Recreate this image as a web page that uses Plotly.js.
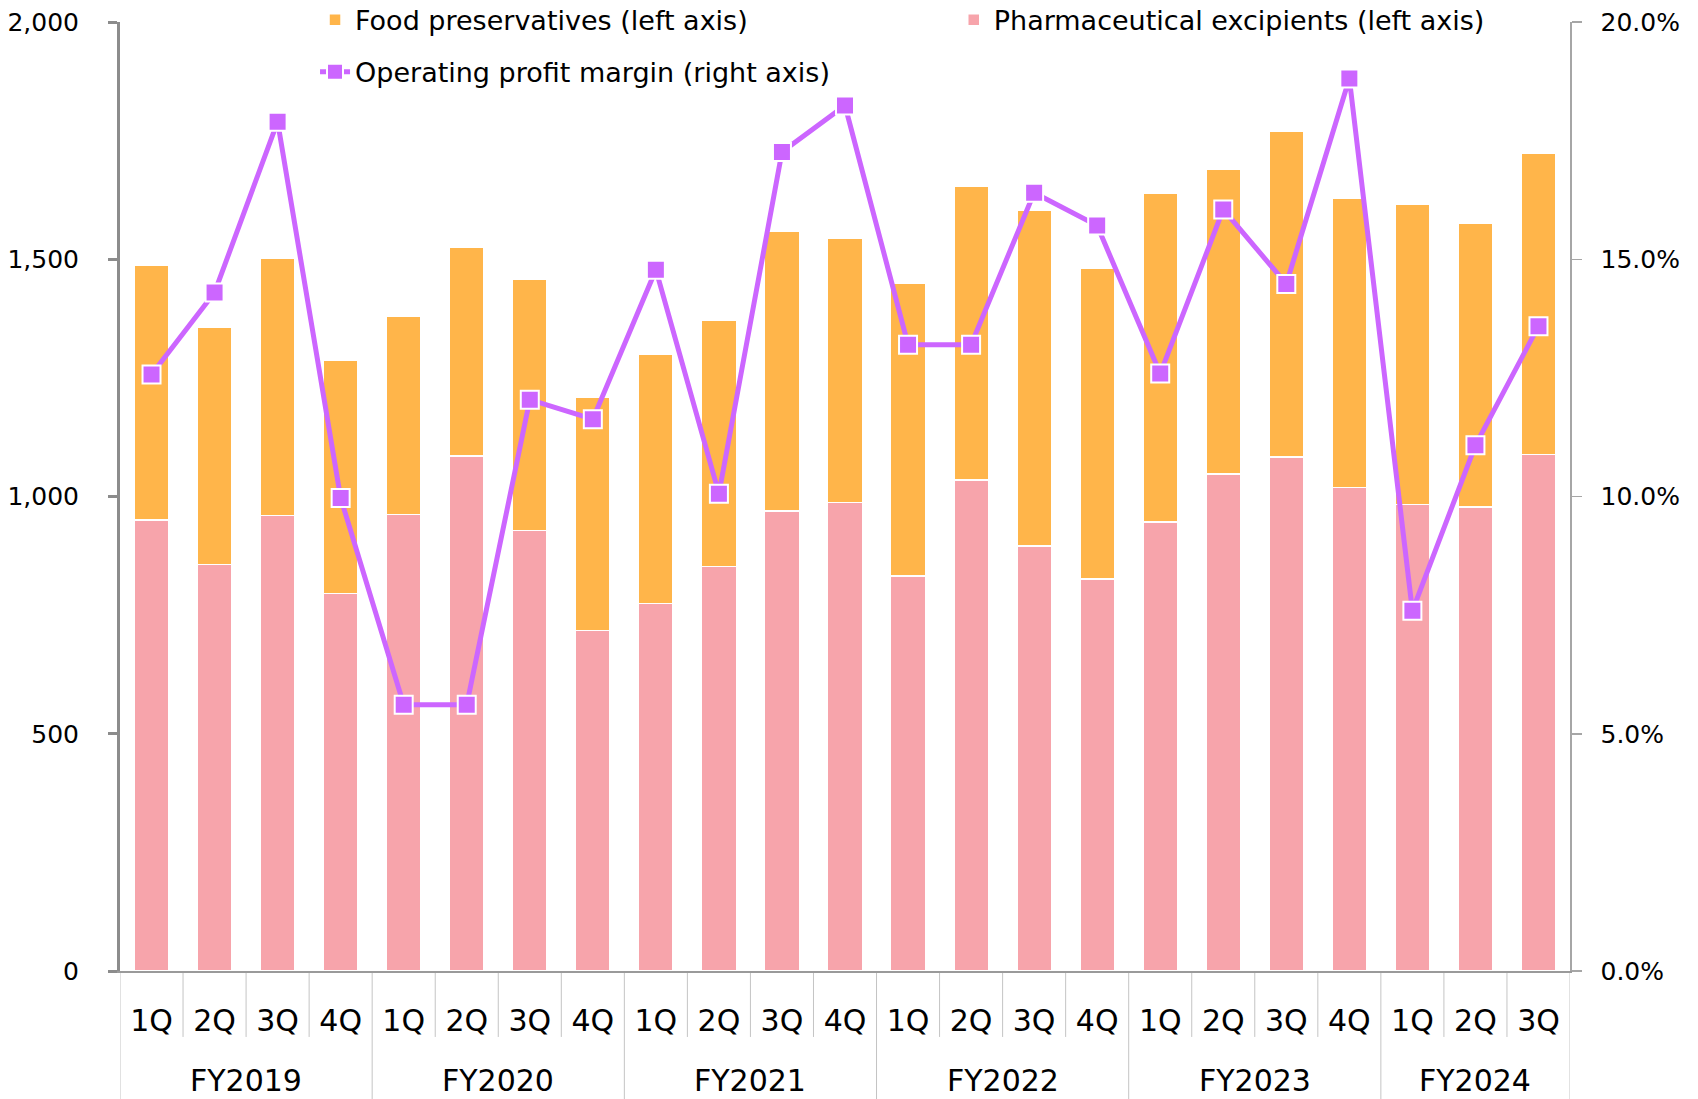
<!DOCTYPE html>
<html>
<head>
<meta charset="utf-8">
<script src="https://cdn.plot.ly/plotly-3.0.1.min.js"></script>
<style>
  html, body { margin: 0; padding: 0; background: #ffffff; }
  #chart { width: 1698px; height: 1099px; }
</style>
</head>
<body>
<div id="chart"></div>
<script>
// ---- Data ----
const fiscalYears = ['FY2019','FY2019','FY2019','FY2019',
                     'FY2020','FY2020','FY2020','FY2020',
                     'FY2021','FY2021','FY2021','FY2021',
                     'FY2022','FY2022','FY2022','FY2022',
                     'FY2023','FY2023','FY2023','FY2023',
                     'FY2024','FY2024','FY2024'];
const quarters = ['1Q','2Q','3Q','4Q','1Q','2Q','3Q','4Q','1Q','2Q','3Q','4Q',
                  '1Q','2Q','3Q','4Q','1Q','2Q','3Q','4Q','1Q','2Q','3Q'];

// Pharmaceutical excipients (left axis)
const pharmaExcipients = [951, 857, 960, 796, 962, 1085, 928, 718, 775, 853, 969, 987,
                          832, 1035, 896, 826, 946, 1047, 1083, 1019, 983, 978, 1088];
// Food preservatives (left axis)
const foodPreservatives = [536, 500, 543, 492, 418, 441, 529, 491, 525, 518, 591, 557,
                           618, 618, 707, 656, 694, 643, 687, 609, 632, 598, 636];
// Operating profit margin (%) (right axis)
const operatingMargin = [12.57, 14.30, 17.90, 9.97, 5.61, 5.61, 12.04, 11.63, 14.78, 10.06, 17.26, 18.24,
                         13.20, 13.20, 16.40, 15.71, 12.59, 16.05, 14.48, 18.81, 7.59, 11.08, 13.59];

const names = {
  food: 'Food preservatives (left axis)',
  pharma: 'Pharmaceutical excipients (left axis)',
  margin: 'Operating profit margin (right axis)'
};

// ---- Styles ----
const ORANGE = '#FFB54A';
const PINK = '#F7A4AB';
const PURPLE = '#CC66FF';
const SEP = '#c4c4c4';
const FONT = 'DejaVu Sans, Verdana, sans-serif';

// unique category keys; the axis shows only the quarter text
const xKeys = fiscalYears.map((fy, i) => fy + ' ' + quarters[i]);

const traces = [
  {
    type: 'bar', name: names.pharma, x: xKeys, y: pharmaExcipients,
    marker: { color: PINK, line: { color: '#ffffff', width: 1.5 } },
    legend: 'legend2', yaxis: 'y'
  },
  {
    type: 'bar', name: names.food, x: xKeys, y: foodPreservatives,
    marker: { color: ORANGE, line: { color: '#ffffff', width: 1.5 } },
    legend: 'legend', yaxis: 'y'
  },
  {
    type: 'scatter', mode: 'lines+markers', name: names.margin, x: xKeys, y: operatingMargin,
    yaxis: 'y2', legend: 'legend3',
    line: { color: PURPLE, width: 5 },
    marker: { symbol: 'square', size: 18, color: PURPLE, line: { color: '#ffffff', width: 2 } }
  }
];

// ---- Category separators and fiscal-year labels (built from the arrays) ----
const shapes = [];
const annotations = [];
const QSEP = -0.0695, YSEP = -0.14;
for (let i = 0; i <= xKeys.length; i++) {
  const isYearBoundary = (i === 0 || i === xKeys.length || fiscalYears[i] !== fiscalYears[i - 1]);
  shapes.push({
    type: 'line', xref: 'x', yref: 'paper', x0: i - 0.5, x1: i - 0.5,
    y0: 0, y1: isYearBoundary ? YSEP : QSEP,
    line: { color: SEP, width: 1 }, layer: 'below'
  });
}
const yearGroups = [];
fiscalYears.forEach((fy, i) => {
  const g = yearGroups.find(o => o.fy === fy);
  if (g) { g.last = i; } else { yearGroups.push({ fy: fy, first: i, last: i }); }
});
yearGroups.forEach(g => {
  annotations.push({
    xref: 'x', yref: 'paper', x: (g.first + g.last) / 2, y: -0.1158,
    text: g.fy, showarrow: false, xanchor: 'center', yanchor: 'middle',
    font: { family: FONT, size: 30, color: '#000000' }
  });
});

const legendCommon = {
  orientation: 'h', bgcolor: 'rgba(0,0,0,0)', borderwidth: 0,
  font: { family: FONT, size: 27, color: '#000000' },
  xanchor: 'left', yanchor: 'middle'
};

const layout = {
  width: 1698, height: 1099,
  paper_bgcolor: '#ffffff', plot_bgcolor: '#ffffff',
  margin: { l: 120, r: 128, t: 22, b: 128, pad: 0, autoexpand: false },
  barmode: 'stack', bargap: 0.45,
  font: { family: FONT, color: '#000000' },
  showlegend: true,
  legend: Object.assign({}, legendCommon, { x: 0.1345, y: 1.002 }),
  legend2: Object.assign({}, legendCommon, { x: 0.575, y: 1.002 }),
  legend3: Object.assign({}, legendCommon, { x: 0.1345, y: 0.947 }),
  xaxis: {
    type: 'category', range: [-0.5, xKeys.length - 0.5],
    tickmode: 'array', tickvals: xKeys, ticktext: quarters,
    showline: true, linecolor: '#9a9a9a', linewidth: 2,
    ticks: '', ticklabelstandoff: 22,
    tickfont: { family: FONT, size: 30, color: '#000000' },
    showgrid: false, zeroline: false, automargin: false
  },
  yaxis: {
    range: [0, 2000], dtick: 500, tickformat: ',d',
    showline: true, linecolor: '#8c8c8c', linewidth: 3,
    ticks: 'outside', ticklen: 9, tickwidth: 3, tickcolor: '#8c8c8c',
    ticklabelstandoff: 24,
    tickfont: { family: FONT, size: 25, color: '#000000' },
    showgrid: false, zeroline: false, automargin: false
  },
  yaxis2: {
    overlaying: 'y', side: 'right',
    range: [0, 20], dtick: 5, tickformat: '.1f', ticksuffix: '%',
    showline: true, linecolor: '#a6a6a6', linewidth: 1.5,
    ticks: 'outside', ticklen: 10, tickwidth: 1.5, tickcolor: '#a6a6a6',
    ticklabelstandoff: 14,
    tickfont: { family: FONT, size: 25, color: '#000000' },
    showgrid: false, zeroline: false, automargin: false
  },
  shapes: shapes,
  annotations: annotations
};

Plotly.newPlot('chart', traces, layout, { displayModeBar: false, staticPlot: true });
</script>
</body>
</html>
